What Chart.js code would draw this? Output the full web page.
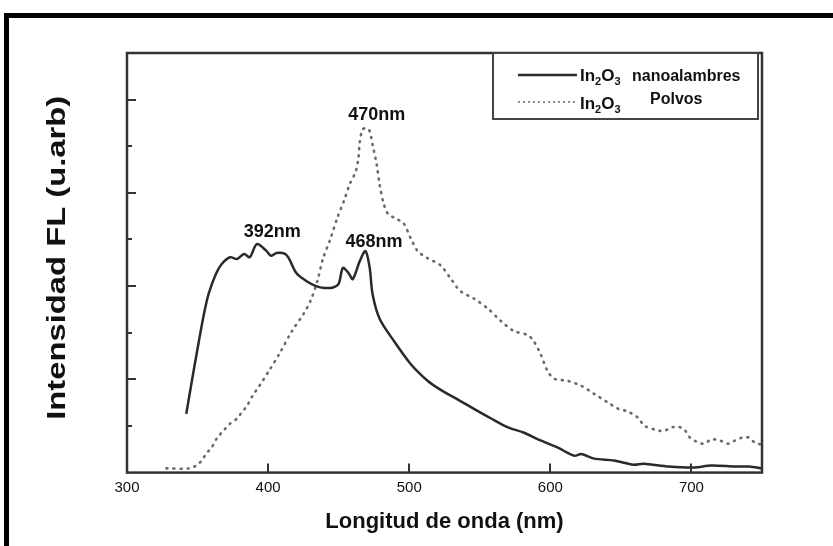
<!DOCTYPE html>
<html>
<head>
<meta charset="utf-8">
<script src="https://cdn.jsdelivr.net/npm/chart.js@4.4.1/dist/chart.umd.min.js"></script>
<style>
  html, body { margin: 0; padding: 0; background: #fff; }
  #wrap { position: relative; width: 833px; height: 546px; overflow: hidden; }
  #frame { position: absolute; left: 4px; top: 13px; right: -10px; bottom: -10px;
           border-left: 5px solid #000; border-top: 5px solid #000; }
  #plot { position: absolute; left: 0; top: 0; }
</style>
</head>
<body>
<div id="wrap">
  <div id="frame"></div>
  <canvas id="plot" width="833" height="546"></canvas>
</div>
<script>
// In2O3 nanoalambres (solid line)
const nanoWave = [342, 346, 351, 355, 358, 363, 367, 373, 378, 383, 387, 392, 399, 402, 406, 412, 415, 420, 427, 434,
  440, 446, 450, 453, 457, 460, 465, 469, 472, 474, 479, 489, 501, 513, 522, 536, 548, 558, 570, 581,
  593, 605, 617, 622, 631, 645, 659, 666, 684, 702, 714, 731, 741, 750];
const nanoInt = [1.26, 1.97, 2.83, 3.47, 3.85, 4.26, 4.47, 4.62, 4.58, 4.69, 4.62, 4.90, 4.75, 4.65, 4.71, 4.69, 4.58, 4.28, 4.11, 4.00,
  3.96, 3.97, 4.05, 4.39, 4.28, 4.15, 4.54, 4.75, 4.39, 3.83, 3.30, 2.83, 2.33, 1.97, 1.78, 1.54, 1.33, 1.16, 0.97, 0.86,
  0.69, 0.54, 0.36, 0.40, 0.30, 0.26, 0.17, 0.19, 0.13, 0.11, 0.15, 0.13, 0.13, 0.09];

// In2O3 Polvos (dotted line)
const polvosWave = [328, 344, 349, 353, 356, 360, 364, 369, 373, 378, 381, 385, 389, 394, 401, 408, 417, 425, 430, 435,
  439, 444, 449, 454, 458, 462, 464, 465, 467, 470, 472, 474, 477, 479, 482, 485, 491, 496, 501, 506,
  513, 522, 529, 536, 546, 556, 565, 574, 584, 588, 593, 598, 603, 612, 622, 631, 641, 648, 655, 662,
  667, 677, 681, 686, 691, 695, 699, 704, 709, 714, 720, 726, 731, 736, 741, 745, 750];
const polvosInt = [0.09, 0.09, 0.15, 0.26, 0.40, 0.54, 0.75, 0.92, 1.05, 1.16, 1.28, 1.43, 1.65, 1.87, 2.20, 2.55, 3.04, 3.40, 3.68, 4.12,
  4.60, 5.00, 5.46, 5.85, 6.20, 6.45, 6.75, 7.10, 7.36, 7.39, 7.32, 7.04, 6.60, 6.18, 5.76, 5.55, 5.44, 5.35, 5.03, 4.75,
  4.60, 4.45, 4.18, 3.90, 3.73, 3.51, 3.25, 3.04, 2.95, 2.83, 2.55, 2.18, 2.01, 1.97, 1.86, 1.69, 1.50, 1.37, 1.31, 1.18,
  1.00, 0.90, 0.90, 0.97, 0.98, 0.92, 0.75, 0.66, 0.62, 0.71, 0.69, 0.62, 0.69, 0.75, 0.75, 0.64, 0.60];

// axis ticks (y has no labels, only marks)
const xTickValues = [400, 500, 600, 700];
const yMajorTicks = [2, 4, 6, 8];
const yMinorTicks = [1, 3, 5, 7];
const yTitle = 'Intensidad FL (u.arb)';

// peak annotations
const peakText = ['392nm', '468nm', '470nm'];
const peakWave = [403, 475, 477];
const peakInt = [5.15, 4.94, 7.68];

const toPoints = (xs, ys) => xs.map((x, i) => ({ x: x, y: ys[i] }));
const FONT = '"Liberation Sans", Arial, sans-serif';

// draws frame, inward ticks, y title, legend with subscripts and peak labels
const decorPlugin = {
  id: 'decor',
  afterDatasetsDraw(chart) {
    const { ctx, chartArea: a, scales: { x, y } } = chart;
    ctx.save();
    ctx.strokeStyle = '#333';
    ctx.lineWidth = 2;
    ctx.beginPath();
    yMajorTicks.forEach(v => { const py = Math.round(y.getPixelForValue(v)); ctx.moveTo(a.left, py); ctx.lineTo(a.left + 9, py); });
    yMinorTicks.forEach(v => { const py = Math.round(y.getPixelForValue(v)); ctx.moveTo(a.left, py); ctx.lineTo(a.left + 5, py); });
    xTickValues.forEach(v => { const px = Math.round(x.getPixelForValue(v)); ctx.moveTo(px, a.bottom); ctx.lineTo(px, a.bottom - 9); });
    ctx.stroke();
    ctx.lineWidth = 2.5;
    ctx.strokeRect(a.left, a.top, a.right - a.left, a.bottom - a.top);

    // y axis title, stretched along its length like the original
    ctx.save();
    ctx.translate(58, (a.top + a.bottom) / 2 - 5);
    ctx.rotate(-Math.PI / 2);
    ctx.scale(1.26, 1);
    ctx.fillStyle = '#111';
    ctx.font = 'bold 26px ' + FONT;
    ctx.textAlign = 'center';
    ctx.textBaseline = 'middle';
    ctx.fillText(yTitle, 0, 0);
    ctx.restore();

    // legend box
    ctx.fillStyle = '#fff';
    ctx.fillRect(493, a.top, 265, 66);
    ctx.lineWidth = 2;
    ctx.strokeStyle = '#444';
    ctx.strokeRect(493, a.top, 265, 66);
    ctx.lineWidth = 2.5;
    ctx.strokeStyle = '#2a2a2a';
    ctx.beginPath(); ctx.moveTo(518, 75); ctx.lineTo(577, 75); ctx.stroke();
    ctx.strokeStyle = '#8a8a8a';
    ctx.lineWidth = 2;
    ctx.setLineDash([2, 3]);
    ctx.beginPath(); ctx.moveTo(518, 102); ctx.lineTo(577, 102); ctx.stroke();
    ctx.setLineDash([]);

    ctx.fillStyle = '#111';
    ctx.textBaseline = 'alphabetic';
    ctx.textAlign = 'left';
    const formula = (x0, base) => {
      let cx = x0;
      ctx.font = 'bold 17px ' + FONT;
      ctx.fillText('In', cx, base); cx += ctx.measureText('In').width;
      ctx.font = 'bold 11px ' + FONT;
      ctx.fillText('2', cx, base + 4); cx += ctx.measureText('2').width;
      ctx.font = 'bold 17px ' + FONT;
      ctx.fillText('O', cx, base); cx += ctx.measureText('O').width;
      ctx.font = 'bold 11px ' + FONT;
      ctx.fillText('3', cx, base + 4);
    };
    formula(580, 81);
    formula(580, 109);
    ctx.font = 'bold 16px ' + FONT;
    ctx.fillText(chart.data.datasets[0].label, 632, 81);
    ctx.fillText(chart.data.datasets[1].label, 650, 104);

    // peak labels
    ctx.font = 'bold 18px ' + FONT;
    ctx.textAlign = 'center';
    ctx.textBaseline = 'middle';
    peakText.forEach((t, i) => ctx.fillText(t, x.getPixelForValue(peakWave[i]), y.getPixelForValue(peakInt[i])));
    ctx.restore();
  }
};

const chart = new Chart(document.getElementById('plot').getContext('2d'), {
  type: 'line',
  data: {
    datasets: [
      {
        label: 'nanoalambres',
        data: toPoints(nanoWave, nanoInt),
        borderColor: '#2a2a2a',
        borderWidth: 2.5,
        pointRadius: 0,
        tension: 0.3,
        fill: false,
      },
      {
        label: 'Polvos',
        data: toPoints(polvosWave, polvosInt),
        borderColor: '#6a6a6a',
        borderWidth: 2.6,
        borderDash: [1, 6],
        borderCapStyle: 'round',
        pointRadius: 0,
        tension: 0.3,
        fill: false,
      },
    ],
  },
  options: {
    responsive: false,
    animation: false,
    layout: { padding: { left: 127, top: 53, right: 71, bottom: 0 } },
    plugins: { legend: { display: false }, tooltip: { enabled: false } },
    scales: {
      x: {
        type: 'linear',
        min: 300,
        max: 750,
        grid: { display: false, drawTicks: false },
        border: { display: false },
        ticks: { stepSize: 100, includeBounds: false, padding: 6, color: '#111',
                 font: { family: FONT, size: 15 } },
        title: {
          display: true,
          text: 'Longitud de onda (nm)',
          color: '#111',
          font: { family: FONT, size: 22, weight: 'bold' },
          padding: { top: 6, bottom: 11 },
        },
      },
      y: {
        display: false,
        min: 0,
        max: 9,
        ticks: { stepSize: 1 },
      },
    },
  },
  plugins: [decorPlugin],
});
</script>
</body>
</html>
